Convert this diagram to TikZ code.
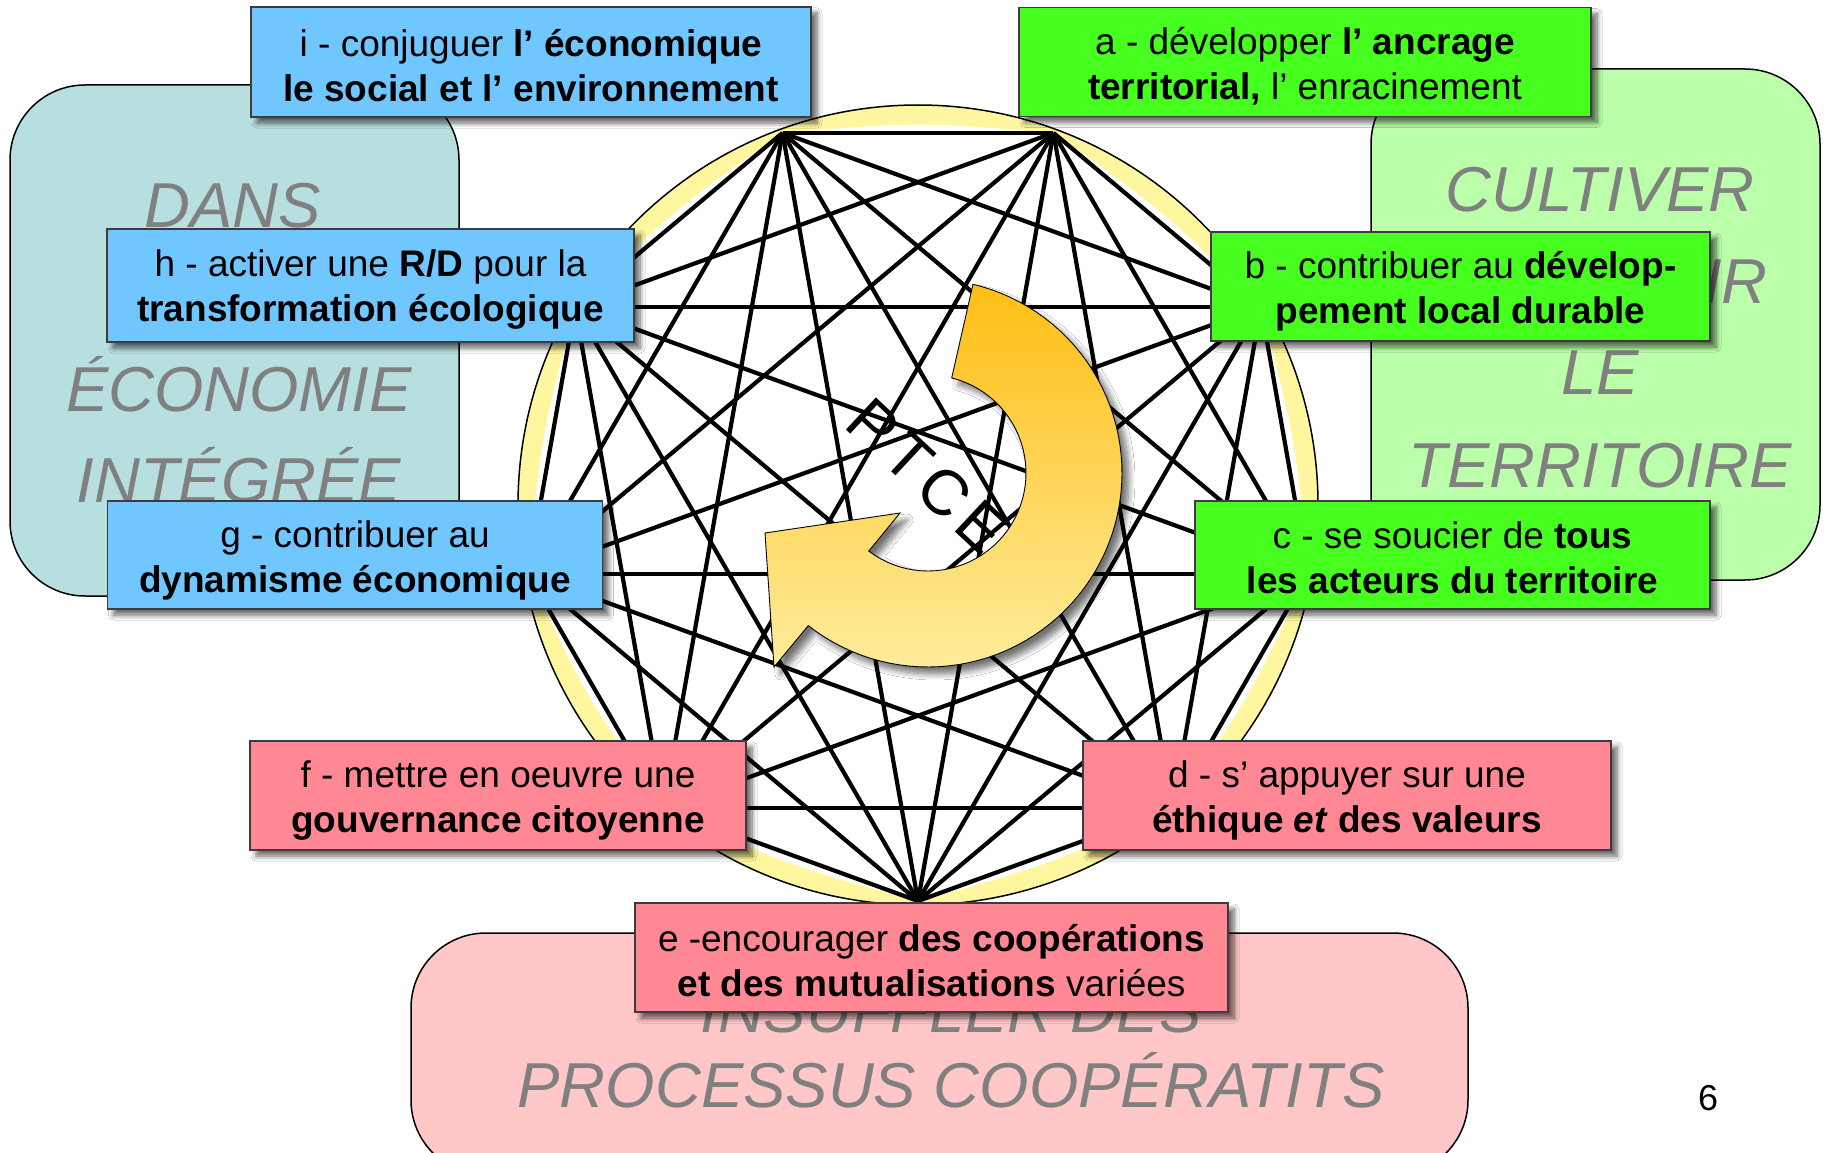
\documentclass[tikz,border=0pt]{standalone}
\usepackage{fontspec}
\setmainfont{Liberation Sans}
\usetikzlibrary{shadows.blur,calc}
\definecolor{boxblue}{RGB}{112,198,255}
\definecolor{boxgreen}{RGB}{70,255,30}
\definecolor{boxpink}{RGB}{255,136,148}
\definecolor{bgteal}{RGB}{184,223,224}
\definecolor{bggreen}{RGB}{187,255,170}
\definecolor{bgpink}{RGB}{255,199,199}
\definecolor{bgtext}{RGB}{128,128,128}
\definecolor{ringyellow}{RGB}{255,247,160}
\definecolor{arrowtop}{RGB}{255,190,20}
\definecolor{arrowbot}{RGB}{255,236,155}
\definecolor{tagline}{RGB}{60,60,60}
\tikzset{
  tag/.style={draw=tagline, line width=1.3pt, inner sep=0pt,
    blur shadow={shadow xshift=6pt, shadow yshift=-6pt, shadow blur radius=5pt, shadow blur steps=8, shadow opacity=60}},
  bluetag/.style={tag, fill=boxblue},
  greentag/.style={tag, fill=boxgreen},
  pinktag/.style={tag, fill=boxpink},
  tagtext/.style={align=center, inner sep=0pt, font=\fontsize{37}{45}\selectfont},
  bgbox/.style={draw=black, line width=1.5pt, rounded corners=75pt},
  bigword/.style={text=bgtext, font=\fontsize{63.5}{92}\selectfont\itshape, anchor=base, inner sep=0pt},
  link/.style={line width=4.2pt, black},
}
% #1 style, #2 name, #3 width, #4 height, #5 centre, #6 text shift, #7 text
\newcommand{\tagbox}[7]{%
  \node[#1, minimum width=#3, minimum height=#4] (#2) at #5 {};
  \node[tagtext] (#2t) at ([yshift=#6]#2.center) {#7};
}
\begin{document}
\begin{tikzpicture}[x=1pt,y=-1pt]
\path[use as bounding box] (0,0) rectangle (1826,1153);
\clip (0,0) rectangle (1826,1153);
\fill[white] (0,0) rectangle (1826,1153);

% background panels
\draw[bgbox, fill=bgteal] (10,85) rectangle (459,596);
\draw[bgbox, fill=bggreen] (1371,69) rectangle (1820,580);
\draw[bgbox, fill=bgpink] (411,933) rectangle (1468,1175);

% background words
\node[bigword] (w1) at (233,227) {DANS};
\node[bigword] (w3) at (239,411) {ÉCONOMIE};
\node[bigword] (w4) at (239,502) {INTÉGRÉE};
\node[bigword] (w5) at (1600,211) {CULTIVER};
\node[bigword, anchor=base east] (w6) at (1768,303) {IR};
\node[bigword] (w7) at (1600,394.5) {LE};
\node[bigword] (w8) at (1600,487.6) {TERRITOIRE};
\node[bigword] (w9) at (951,1032) {INSUFFLER DES};
\node[bigword] (w10) at (951,1107) {PROCESSUS COOPÉRATITS};

% circle and vertices
\coordinate (O) at (918,505);
\foreach \k in {0,...,8} {
  \coordinate (v\k) at ($(O)+({90-40*\k}:396)$);
  \coordinate (m\k) at ($(O)+({70-40*\k}:383)$);
}
\draw[line width=1.5pt, fill=ringyellow] (O) circle[radius=400];
\fill[white] (v0) .. controls (m0) .. (v1) .. controls (m1) .. (v2)
  .. controls (m2) .. (v3) .. controls (m3) .. (v4) .. controls (m4) .. (v5)
  .. controls (m5) .. (v6) .. controls (m6) .. (v7) .. controls (m7) .. (v8)
  .. controls (m8) .. (v0) -- cycle;

% complete graph
\foreach \a in {0,...,7} {
  \pgfmathtruncatemacro\s{\a+1}
  \foreach \b in {\s,...,8} {
    \draw[link] (v\a) -- (v\b);
  }
}

% circular arrow
\coordinate (hb2) at (774,667);
\coordinate (htip) at (765,533);
\coordinate (hb1) at (900,513);
\path[top color=arrowtop, bottom color=arrowbot, draw=black, line width=0.9pt,
  blur shadow={shadow xshift=7pt, shadow yshift=-7pt, shadow blur radius=6pt, shadow blur steps=8, shadow opacity=55}]
  plot[domain=-76.6:128.1, samples=70] ({928+194*cos(\x)},{473+194*sin(\x)})
  -- (hb2) -- (htip) -- (hb1)
  -- plot[domain=127.2:-76, samples=50] ({928+98*cos(\x)},{473+98*sin(\x)})
  -- cycle;

\node[font=\fontsize{64}{64}\selectfont, rotate=-43, inner sep=0pt] (ptce) at (928,476)
  {P\hspace{7pt}T\hspace{7pt}C\hspace{7pt}E};

% tags
\tagbox{bluetag}{i}{560}{110}{(531,62)}{-4pt}
  {i - conjuguer \textbf{l’ économique}\\\textbf{le social et l’ environnement}}
\tagbox{greentag}{a}{572}{109}{(1305,62)}{-4pt}
  {a - développer \textbf{l’ ancrage}\\\textbf{territorial,} l’ enracinement}
\tagbox{bluetag}{h}{527}{113}{(370.5,285.5)}{-4pt}
  {\fontsize{37}{48}\selectfont h - activer une \textbf{R/D} pour la\\\textbf{transformation écologique}}
\tagbox{greentag}{b}{499}{109}{(1460.5,286.5)}{-5pt}
  {b - contribuer au \textbf{dévelop-}\\\textbf{pement local durable}}
\tagbox{bluetag}{g}{495}{108}{(355,555)}{-5pt}
  {g - contribuer au\\\textbf{dynamisme économique}}
\tagbox{greentag}{c}{515}{108}{(1452.5,555)}{-3pt}
  {c - se soucier de \textbf{tous}\\\textbf{les acteurs du territoire}}
\tagbox{pinktag}{f}{496}{109}{(498,795.5)}{-5pt}
  {f - mettre en oeuvre une\\\textbf{gouvernance citoyenne}}
\tagbox{pinktag}{d}{528}{109}{(1347,795.5)}{-5pt}
  {d - s’ appuyer sur une\\\textbf{éthique \textit{et} des valeurs}}
\tagbox{pinktag}{e}{593}{109}{(931.5,957.5)}{-3pt}
  {e -encourager \textbf{des coopérations}\\\textbf{et des mutualisations} variées}

\node[font=\fontsize{36}{36}\selectfont, anchor=base, inner sep=0pt] (pg) at (1708,1110) {6};
\end{tikzpicture}
\end{document}
